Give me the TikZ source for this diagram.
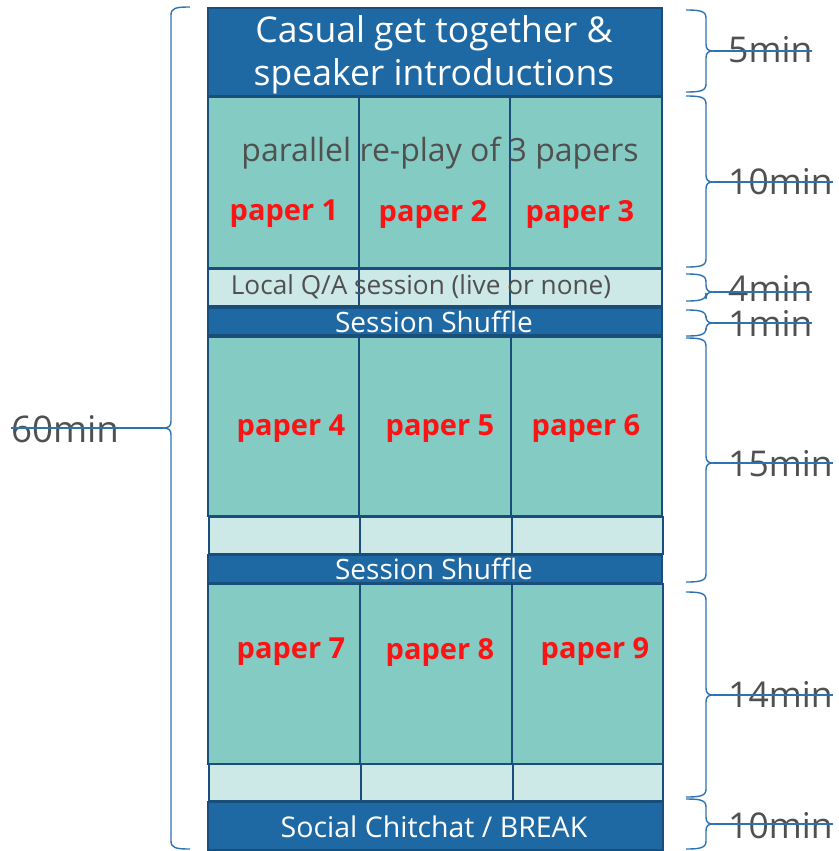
\documentclass[tikz,border=0pt]{standalone}
\usepackage{fontspec}
\setmainfont{Open Sans}
\definecolor{dblue}{RGB}{30,105,163}
\definecolor{bord}{RGB}{26,78,122}
\definecolor{teal}{RGB}{132,203,196}
\definecolor{lteal}{RGB}{204,233,231}
\definecolor{brc}{RGB}{46,114,178}
\definecolor{gtxt}{RGB}{80,80,80}
\definecolor{pred}{RGB}{250,20,20}
\newcommand\RBr[4]{% x, top, tip, bottom
\draw[brc,line width=1.4pt] (#1,#2) .. controls (#1+14,#2) and (#1+20,#2+1) .. (#1+20,#2+8) -- (#1+20,#3-7) .. controls (#1+20,#3-2) and (#1+22,#3) .. (#1+27,#3) .. controls (#1+22,#3) and (#1+20,#3+2) .. (#1+20,#3+7) -- (#1+20,#4-8) .. controls (#1+20,#4-1) and (#1+14,#4) .. (#1,#4);}
\begin{document}
\begin{tikzpicture}[x=1pt,y=-1pt,
  cell/.style={draw=bord,line width=1.8pt,inner sep=0pt,anchor=north west},
  darkbox/.style={cell,fill=dblue,text=white},
  papbox/.style={cell,fill=teal},
  qabox/.style={cell,fill=lteal},
  ptxt/.style={text=pred,font=\fontsize{29}{32}\selectfont\bfseries},
  mtxt/.style={text=gtxt,font=\fontsize{35.5}{40}\selectfont,anchor=west,inner sep=0pt},
  tipline/.style={brc,line width=1.2pt}]
\useasboundingbox (0,0) rectangle (838,851);
% top
\node[darkbox,minimum width=454pt,minimum height=88pt] (top) at (207,7) {};
\node[text=white,font=\fontsize{35.5}{43}\selectfont,align=center] (toptxt) at (434,55) {Casual get together \&\\speaker introductions};
% row 1
\node[papbox,minimum width=151pt,minimum height=171pt] (r1a) at (207,96) {};
\node[papbox,minimum width=151pt,minimum height=171pt] (r1b) at (358,96) {};
\node[papbox,minimum width=152pt,minimum height=171pt] (r1c) at (509,96) {};
\node[text=gtxt,font=\fontsize{32}{36}\selectfont] (par) at (440,153) {parallel re-play of 3 papers};
\node[ptxt] (p1) at (284,214) {paper 1};
\node[ptxt] (p2) at (433,214) {paper 2};
\node[ptxt] (p3) at (580,214) {paper 3};
% QA row
\node[qabox,minimum width=151pt,minimum height=37pt] (q1a) at (207,268) {};
\node[qabox,minimum width=151pt,minimum height=37pt] (q1b) at (358,268) {};
\node[qabox,minimum width=152pt,minimum height=37pt] (q1c) at (509,268) {};
\node[text=gtxt,font=\fontsize{26.2}{28}\selectfont] (qa) at (421,287) {Local Q/A session (live or none)};
% shuffle 1
\node[darkbox,minimum width=454pt,minimum height=27pt] (sh1) at (207,307) {};
\node[text=white,font=\fontsize{28}{28}\selectfont] (sh1t) at (434,322) {Session Shuffle};
% row 2
\node[papbox,minimum width=151pt,minimum height=179pt] (r2a) at (207,336) {};
\node[papbox,minimum width=152pt,minimum height=179pt] (r2b) at (358,336) {};
\node[papbox,minimum width=151pt,minimum height=179pt] (r2c) at (510,336) {};
\node[ptxt] (p4) at (291,429) {paper 4};
\node[ptxt] (p5) at (440,429) {paper 5};
\node[ptxt] (p6) at (586,429) {paper 6};
\node[qabox,minimum width=151pt,minimum height=37pt] (q2a) at (208,516) {};
\node[qabox,minimum width=152pt,minimum height=37pt] (q2b) at (359,516) {};
\node[qabox,minimum width=151pt,minimum height=37pt] (q2c) at (511,516) {};
% shuffle 2
\node[darkbox,minimum width=454pt,minimum height=28pt] (sh2) at (207,554) {};
\node[text=white,font=\fontsize{28}{28}\selectfont] (sh2t) at (434,569) {Session Shuffle};
% row 3
\node[papbox,minimum width=152pt,minimum height=180pt] (r3a) at (207,583) {};
\node[papbox,minimum width=152pt,minimum height=180pt] (r3b) at (359,583) {};
\node[papbox,minimum width=151pt,minimum height=180pt] (r3c) at (511,583) {};
\node[ptxt] (p7) at (291,652) {paper 7};
\node[ptxt] (p8) at (440,652) {paper 8};
\node[ptxt] (p9) at (595,652) {paper 9};
\node[qabox,minimum width=152pt,minimum height=37pt] (q3a) at (208,763) {};
\node[qabox,minimum width=152pt,minimum height=37pt] (q3b) at (360,763) {};
\node[qabox,minimum width=150pt,minimum height=37pt] (q3c) at (512,763) {};
% bottom
\node[darkbox,minimum width=455pt,minimum height=48pt] (bot) at (207,801) {};
\node[text=white,font=\fontsize{28.5}{30}\selectfont] (bott) at (434,827) {Social Chitchat / BREAK};
% right braces and labels
\RBr{686}{10}{51}{92}
\RBr{686}{96}{182}{267}
\RBr{686}{274}{292}{301}
\RBr{686}{310}{323}{336}
\RBr{686}{338}{463}{582}
\RBr{686}{592}{695}{797}
\RBr{686}{799}{824}{849}
\node[mtxt] (m5) at (728,50) {5min};
\node[mtxt] (m10) at (728,182) {10min};
\node[mtxt] (m4) at (728,288) {4min};
\node[mtxt] (m1) at (728,323) {1min};
\node[mtxt] (m15) at (728,464) {15min};
\node[mtxt] (m14) at (728,694) {14min};
\node[mtxt] (m10b) at (728,826) {10min};
\draw[tipline] (713,51) -- (m5.east |- 0,51);
\draw[tipline] (713,182) -- (m10.east |- 0,182);
\draw[tipline] (713,292) -- (m4.east |- 0,292);
\draw[tipline] (713,323) -- (m1.east |- 0,323);
\draw[tipline] (713,463) -- (m15.east |- 0,463);
\draw[tipline] (713,695) -- (m14.east |- 0,695);
\draw[tipline] (713,824) -- (m10b.east |- 0,824);
% left brace
\draw[brc,line width=1.4pt] (190,7) .. controls (176,7) and (171,8) .. (171,15) -- (171,421) .. controls (171,426) and (169,428) .. (163,428) .. controls (169,428) and (171,430) .. (171,435) -- (171,841) .. controls (171,848) and (176,849) .. (190,849);
\node[mtxt,anchor=center,font=\fontsize{36.7}{40}\selectfont] (m60) at (65,429) {60min};
\draw[tipline] (163,428) -- (m60.west |- 0,428);
\end{tikzpicture}
\end{document}
